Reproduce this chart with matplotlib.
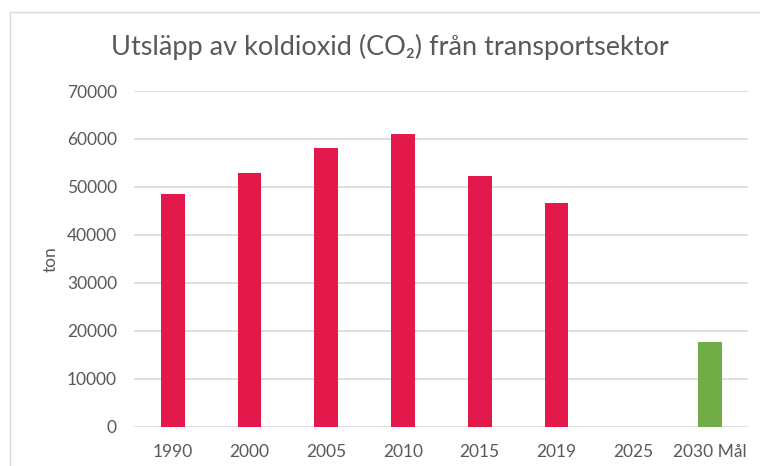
import numpy as np
import matplotlib
matplotlib.use("Agg")
import matplotlib.pyplot as plt
from matplotlib.patches import Rectangle

categories = ["1990", "2000", "2005", "2010", "2015", "2019", "2025", "2030 Mål"]
values = [48600, 52800, 58200, 61100, 52300, 46700, np.nan, 17700]
bar_colors = ["#E2194A"] * 7 + ["#70AD47"]
yticks = [0, 10000, 20000, 30000, 40000, 50000, 60000, 70000]
title = "Utsläpp av koldioxid (CO\u2082) från transportsektor"
ylabel = "ton"

plt.rcParams['font.family'] = ['Lato', 'DejaVu Sans']
txt = "#595959"
grid = "#D9D9D9"

fig = plt.figure(figsize=(7.6, 4.66), dpi=100)
W, H = 760, 466
ax = fig.add_axes([134.3 / W, 1 - 426.7 / H, (748.4 - 134.3) / W, (426.7 - 91) / H])

x = np.arange(len(categories))
ax.bar(x, values, width=0.31, color=bar_colors, zorder=3)
ax.set_xlim(-0.5, len(categories) - 0.5)
ax.set_ylim(0, 70000)
ax.set_yticks(yticks)
ax.set_yticklabels([str(v) for v in yticks])
ax.set_xticks(x)
ax.set_xticklabels(categories)
ax.grid(axis='y', color=grid, linewidth=1.2, zorder=0)
ax.set_axisbelow(True)
for s in ax.spines.values():
    s.set_visible(False)
ax.tick_params(axis='both', length=0, labelsize=12.5, labelcolor=txt)
ax.tick_params(axis='y', pad=12.5)
ax.tick_params(axis='x', pad=12.5)

fig.text(390 / W, 1 - 47 / H, title, ha='center', va='center', fontsize=19.5, color=txt)
fig.text(51 / W, 1 - 259 / H, ylabel, ha='center', va='center', rotation=90, fontsize=12.5, color=txt)

fig.patches.append(Rectangle((10 / W, -0.1), 1.2, 1 - 12 / H + 0.1, transform=fig.transFigure,
                             fill=False, edgecolor=grid, linewidth=1.0))

fig.savefig("out.png", dpi=100)
